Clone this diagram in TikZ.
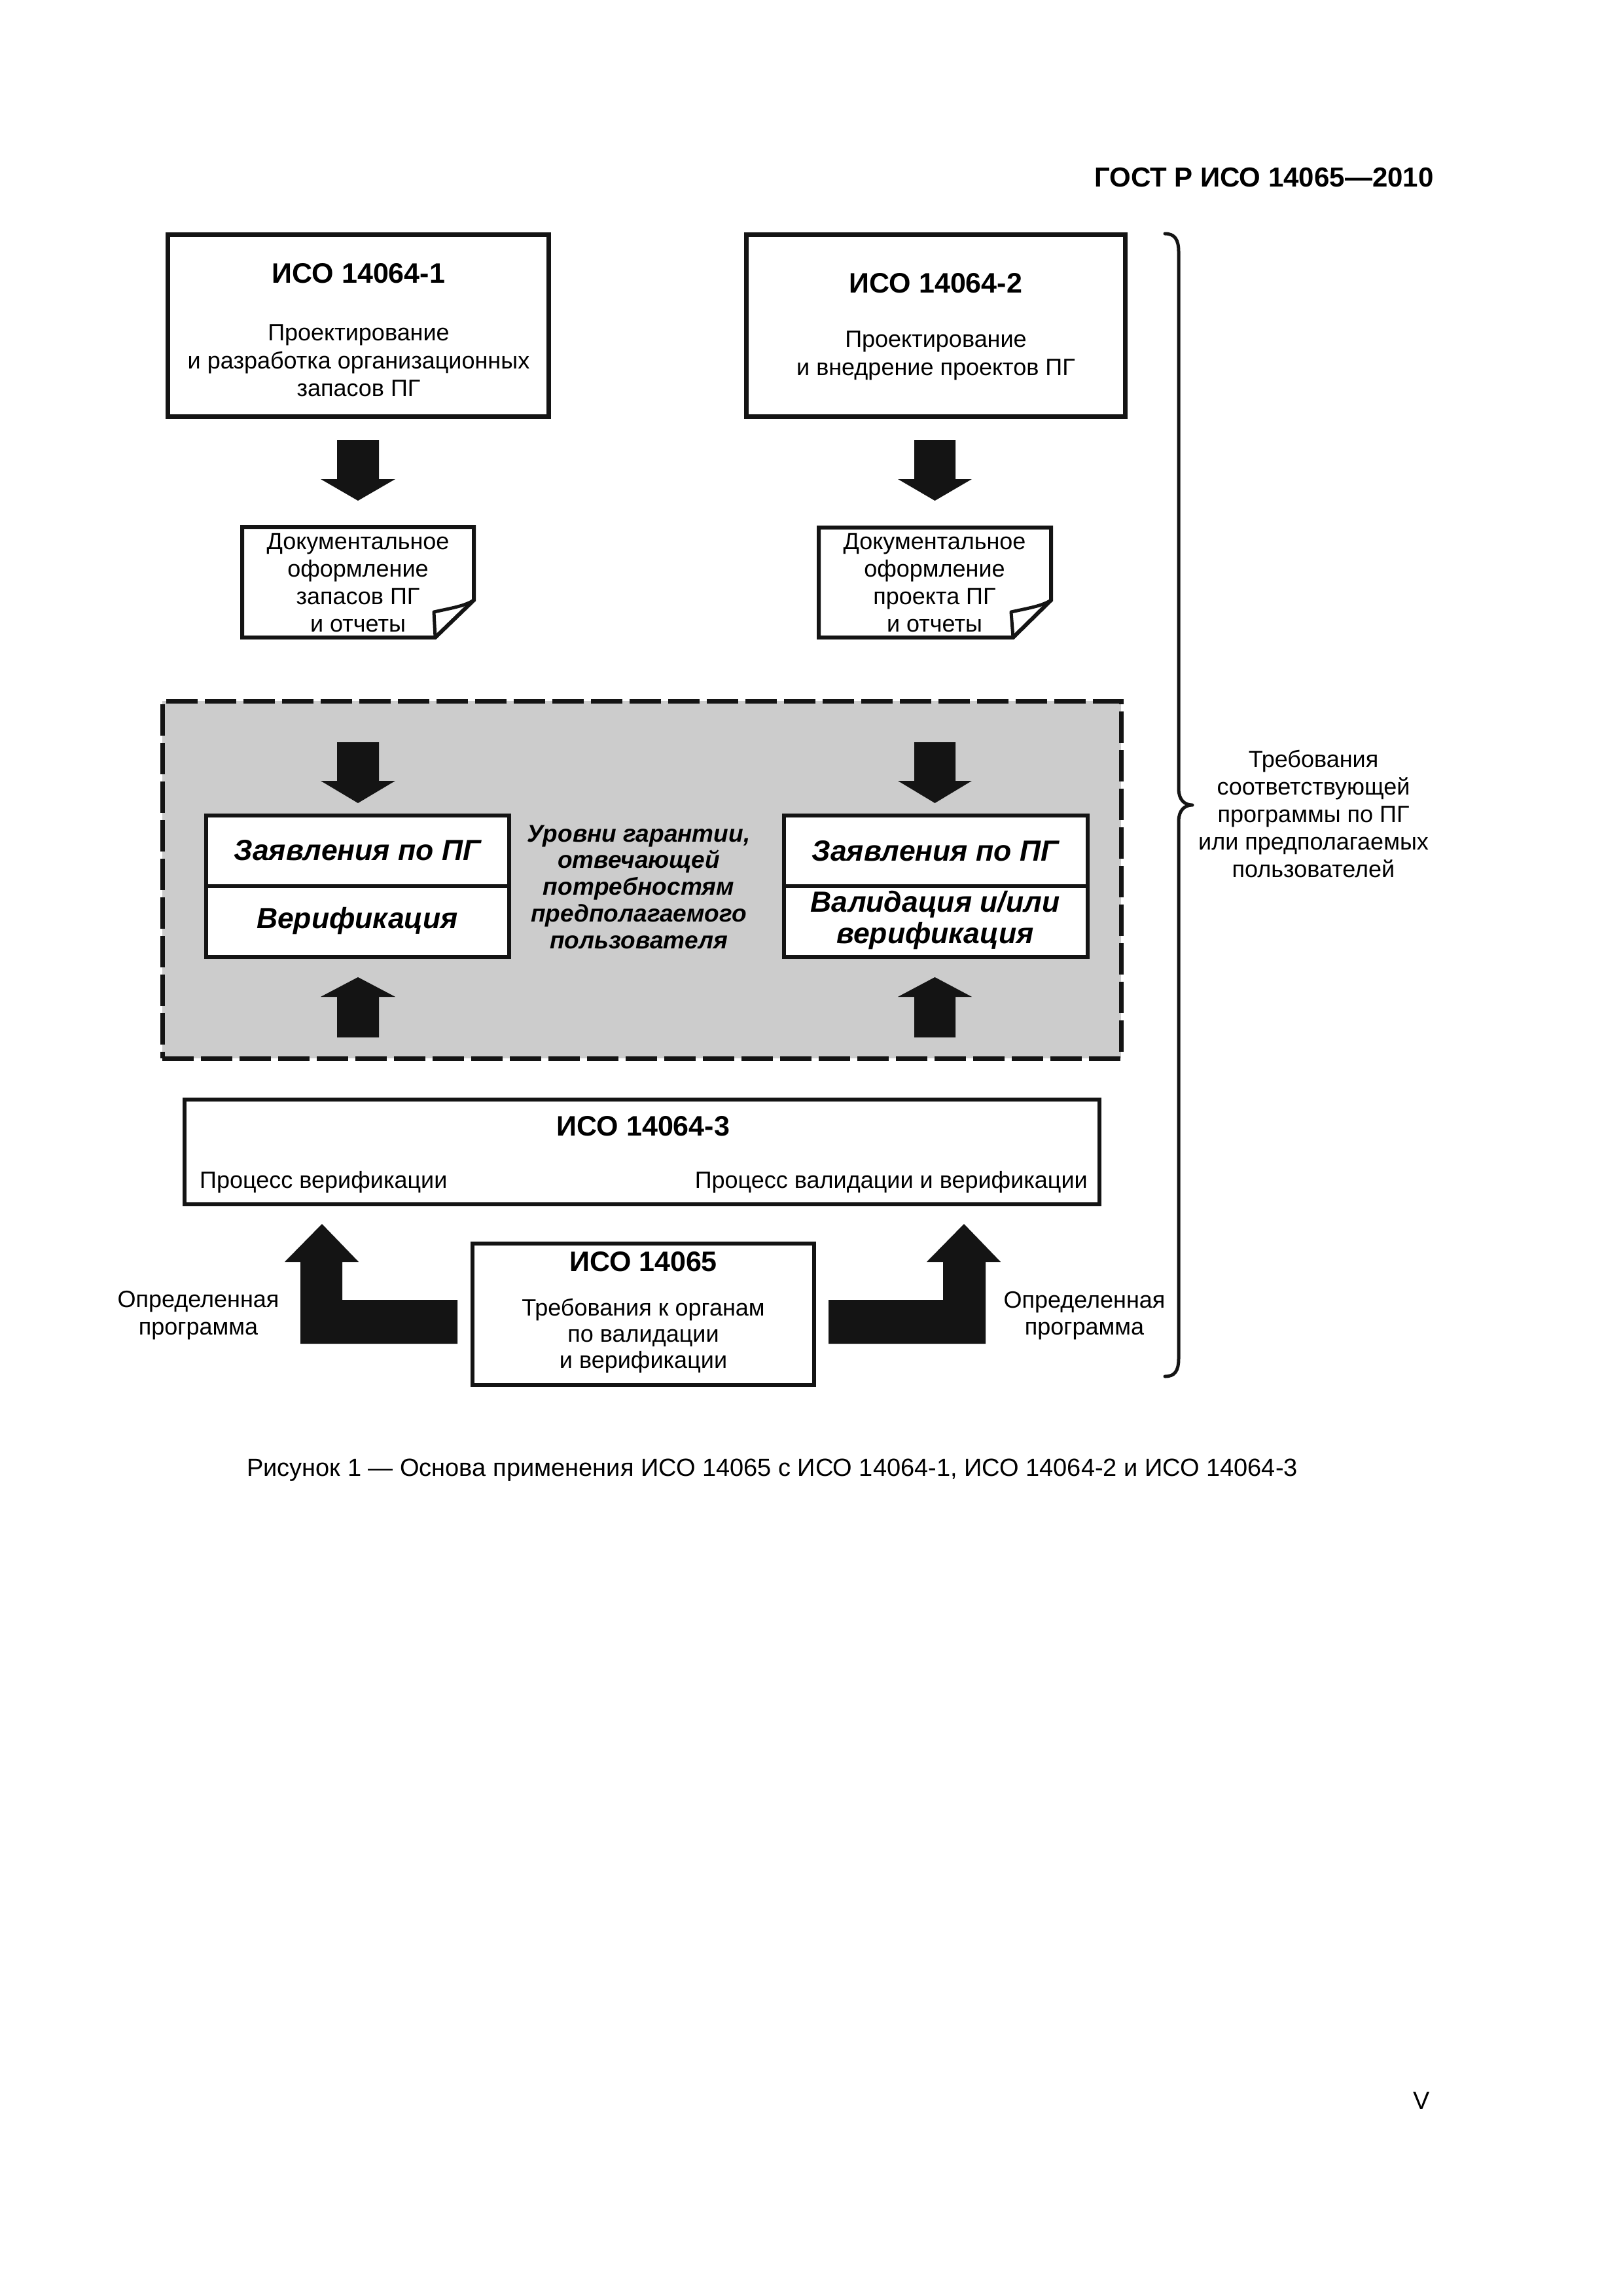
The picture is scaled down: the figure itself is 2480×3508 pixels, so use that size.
\documentclass[tikz,border=0pt]{standalone}
\usepackage{fontspec}
\setmainfont{Liberation Sans}
\definecolor{grayfill}{RGB}{204,204,204}
\definecolor{ink}{RGB}{20,20,20}
\begin{document}
\begin{tikzpicture}[x=1pt,y=-1pt,
  txt/.style={inner sep=0pt, anchor=base, font=\fontsize{36pt}{41pt}\selectfont},
  ttl/.style={inner sep=0pt, anchor=base, font=\fontsize{43pt}{48pt}\selectfont\bfseries},
  bit/.style={inner sep=0pt, anchor=base, font=\fontsize{44.5pt}{48pt}\selectfont\bfseries\itshape},
  mit/.style={inner sep=0pt, anchor=base, font=\fontsize{37pt}{40pt}\selectfont\bfseries\itshape},
  hdr/.style={inner sep=0pt, font=\fontsize{42pt}{48pt}\selectfont\bfseries},
  captxt/.style={inner sep=0pt, font=\fontsize{38pt}{44pt}\selectfont},
  boxa/.style={draw=ink, line width=7pt, fill=white, inner sep=0pt, outer sep=0pt},
  boxb/.style={draw=ink, line width=6pt, fill=white, inner sep=0pt, outer sep=0pt},
  blk/.style={fill=ink},
]
\useasboundingbox (0,0) rectangle (2480,3508);
\fill[white] (0,0) rectangle (2480,3508);

% header and page number
\node[hdr, anchor=base west] (hdr) at (1672,285) {ГОСТ Р ИСО 14065—2010};
\node[inner sep=0pt, anchor=base, font=\fontsize{38pt}{44pt}\selectfont] (pg) at (2172.5,3222) {V};

% top boxes
\node[boxa, minimum width=582pt, minimum height=278pt] (b1) at (547.5,497.5) {};
\node[boxa, minimum width=579pt, minimum height=278pt] (b2) at (1430,497.5) {};
\node[ttl] (b1t) at (548,432) {ИСО 14064-1};
\node[txt] (b1a) at (548,520) {Проектирование};
\node[txt] (b1b) at (548,563) {и разработка организационных};
\node[txt] (b1c) at (548,605) {запасов ПГ};
\node[ttl] (b2t) at (1430,447) {ИСО 14064-2};
\node[txt] (b2a) at (1430,530) {Проектирование};
\node[txt] (b2b) at (1430,573) {и внедрение проектов ПГ};

% down arrows below top boxes
\fill[blk] (515,672) -- (579,672) -- (579,732) -- (604,732) -- (547,765) -- (490,732) -- (515,732) -- cycle;
\fill[blk] (1397,672) -- (1460,672) -- (1460,732) -- (1485,732) -- (1428.5,765) -- (1372,732) -- (1397,732) -- cycle;

% document boxes
\draw[ink, line width=6pt, fill=white, line join=miter]
  (370,805) -- (724,805) -- (724,917) -- (665,974) -- (370,974) -- cycle;
\draw[ink, line width=5pt, line join=round]
  (665,974) -- (663,935) .. controls (690,929) and (710,926) .. (724,917);
\draw[ink, line width=6pt, fill=white, line join=miter]
  (1251,806) -- (1606,806) -- (1606,917) -- (1548,974) -- (1251,974) -- cycle;
\draw[ink, line width=5pt, line join=round]
  (1548,974) -- (1545,935) .. controls (1572,929) and (1592,926) .. (1606,917);
\node[txt] (d1a) at (547,839) {Документальное};
\node[txt] (d1b) at (547,881) {оформление};
\node[txt] (d1c) at (547,923) {запасов ПГ};
\node[txt] (d1d) at (547,965) {и отчеты};
\node[txt] (d2a) at (1428,839) {Документальное};
\node[txt] (d2b) at (1428,881) {оформление};
\node[txt] (d2c) at (1428,923) {проекта ПГ};
\node[txt] (d2d) at (1428,965) {и отчеты};

% gray dashed region
\node[draw=ink, fill=grayfill, line width=7pt, dash pattern=on 48pt off 11pt,
      inner sep=0pt, minimum width=1465pt, minimum height=546pt] (gray) at (980.5,1344) {};

% arrows inside gray region
\fill[blk] (515,1134) -- (579,1134) -- (579,1193) -- (604,1193) -- (547,1227) -- (490,1193) -- (515,1193) -- cycle;
\fill[blk] (1397,1134) -- (1460,1134) -- (1460,1193) -- (1485,1193) -- (1428.5,1227) -- (1372,1193) -- (1397,1193) -- cycle;
\fill[blk] (515,1585) -- (579,1585) -- (579,1523) -- (604,1523) -- (547,1493) -- (490,1523) -- (515,1523) -- cycle;
\fill[blk] (1397,1585) -- (1460,1585) -- (1460,1523) -- (1485,1523) -- (1428.5,1493) -- (1372,1523) -- (1397,1523) -- cycle;

% inner boxes
\node[boxb, minimum width=463pt, minimum height=108pt] (lt) at (546.5,1300) {};
\node[boxb, minimum width=463pt, minimum height=108pt] (lb) at (546.5,1408) {};
\node[boxb, minimum width=464pt, minimum height=108pt] (rt) at (1430,1300) {};
\node[boxb, minimum width=464pt, minimum height=108pt] (rb) at (1430,1408) {};
\node[bit] (ltx) at (546,1314) {Заявления по ПГ};
\node[bit] (lbx) at (546,1418) {Верификация};
\node[bit] (rtx) at (1429,1315) {Заявления по ПГ};
\node[bit] (rbx1) at (1429,1393) {Валидация и/или};
\node[bit] (rbx2) at (1429,1441) {верификация};
\node[mit] (m1) at (976,1286) {Уровни гарантии,};
\node[mit] (m2) at (976,1326) {отвечающей};
\node[mit] (m3) at (976,1367) {потребностям};
\node[mit] (m4) at (976,1408) {предполагаемого};
\node[mit] (m5) at (976,1449) {пользователя};

% ISO 14064-3
\node[boxb, minimum width=1398pt, minimum height=160pt] (b3) at (981,1760) {};
\node[ttl] (b3t) at (983,1735) {ИСО 14064-3};
\node[txt, anchor=base west] (b3l) at (305,1815) {Процесс верификации};
\node[txt, anchor=base east] (b3r) at (1662,1815) {Процесс валидации и верификации};

% ISO 14065
\node[boxb, minimum width=522pt, minimum height=216pt] (b4) at (983,2008) {};
\node[ttl] (b4t) at (983,1942) {ИСО 14065};
\node[txt] (b4a) at (983,2010) {Требования к органам};
\node[txt] (b4b) at (983,2050) {по валидации};
\node[txt] (b4c) at (983,2090) {и верификации};

% L-shaped arrows
\fill[blk] (492,1870) -- (548,1928) -- (523,1928) -- (523,1986) -- (699,1986) -- (699,2053)
  -- (459,2053) -- (459,1928) -- (435,1928) -- cycle;
\fill[blk] (1473,1870) -- (1529,1928) -- (1506,1928) -- (1506,2053) -- (1266,2053)
  -- (1266,1986) -- (1441,1986) -- (1441,1928) -- (1416,1928) -- cycle;
\node[txt] (ll1) at (303,1997) {Определенная};
\node[txt] (ll2) at (303,2039) {программа};
\node[txt] (rl1) at (1657,1998) {Определенная};
\node[txt] (rl2) at (1657,2039) {программа};

% brace
\draw[ink, line width=5pt, line cap=round, line join=round]
  (1780,357) .. controls (1795,357) and (1801,366) .. (1801,385) -- (1801,1205)
  .. controls (1801,1222) and (1810,1230) .. (1822,1230)
  .. controls (1810,1230) and (1801,1238) .. (1801,1255) -- (1801,2075)
  .. controls (1801,2095) and (1795,2103) .. (1780,2103);
\node[txt] (q1) at (2007,1172) {Требования};
\node[txt] (q2) at (2007,1214) {соответствующей};
\node[txt] (q3) at (2007,1256) {программы по ПГ};
\node[txt] (q4) at (2007,1298) {или предполагаемых};
\node[txt] (q5) at (2007,1340) {пользователей};

% caption
\node[captxt, anchor=base west] (capt) at (377,2255) {Рисунок 1 — Основа применения ИСО 14065 с ИСО 14064-1, ИСО 14064-2 и ИСО 14064-3};
\end{tikzpicture}
\end{document}
